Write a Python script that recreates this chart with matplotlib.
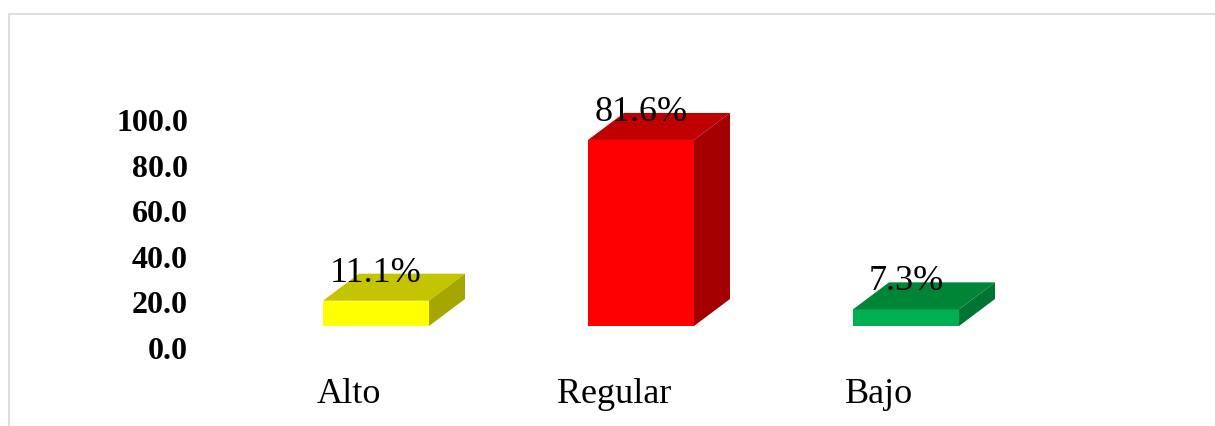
import matplotlib.pyplot as plt
from matplotlib.patches import Polygon, Rectangle

# datos
categorias = ['Alto', 'Regular', 'Bajo']
porcentajes = [11.1, 81.6, 7.3]
etiquetas = ['11.1%', '81.6%', '7.3%']
ticks_y = [0, 20, 40, 60, 80, 100]

# colores: frente, arriba, lado
frente = ['#FFFF00', '#FF0000', '#00B050']
arriba = ['#C4C400', '#C00000', '#008537']
lado = ['#A6A600', '#A40000', '#007533']

plt.rcParams['font.family'] = ['Liberation Serif', 'DejaVu Serif']

W, H = 1215, 426
fig = plt.figure(figsize=(W / 100, H / 100), dpi=100)
ax = fig.add_axes([200 / W, 0, 1 - 200 / W, 1])

# escala: y=0 en pixel 78 desde abajo, 2.28 px por unidad
ppu = 2.28
ax.set_ylim(-78 / ppu, (H - 78) / ppu)
ax.set_xlim((200 - 376) / 265, (W - 376) / 265)

ancho = 0.4
dx = 36 / 265
dy = 27 / ppu
base = 22 / ppu

for i, v in enumerate(porcentajes):
    x0 = i - ancho / 2
    x1 = i + ancho / 2
    y0 = base
    y1 = base + v
    ax.add_patch(Polygon([(x0, y0), (x1, y0), (x1, y1), (x0, y1)],
                         closed=True, facecolor=frente[i], edgecolor='none'))
    ax.add_patch(Polygon([(x0, y1), (x1, y1), (x1 + dx, y1 + dy), (x0 + dx, y1 + dy)],
                         closed=True, facecolor=arriba[i], edgecolor='none'))
    ax.add_patch(Polygon([(x1, y0), (x1 + dx, y0 + dy), (x1 + dx, y1 + dy), (x1, y1)],
                         closed=True, facecolor=lado[i], edgecolor='none'))
    ax.annotate(etiquetas[i], (i, y1), xytext=(0, 19 * 0.72), textcoords='offset points',
                ha='center', va='baseline', fontsize=26)
    ax.annotate(categorias[i], (i, 0), xycoords=('data', 'figure fraction'),
                xytext=(-27 * 0.72, 23 * 0.72), textcoords='offset points',
                ha='center', va='baseline', fontsize=26)

ax.set_yticks(ticks_y)
ax.set_yticklabels([f'{t:.1f}' for t in ticks_y], fontsize=23, fontweight='bold')
ax.tick_params(axis='y', length=0, pad=12 * 0.72)
ax.set_xticks([])
for s in ax.spines.values():
    s.set_visible(False)
ax.patch.set_alpha(0)

# marco gris
fig.patches.append(Rectangle((8.5 / W, -0.2), 1.2, 1.2 - 13.5 / H + 0.0,
                             transform=fig.transFigure, fill=False,
                             edgecolor='#D9D9D9', linewidth=1.2))

fig.savefig('out.png', dpi=100)
